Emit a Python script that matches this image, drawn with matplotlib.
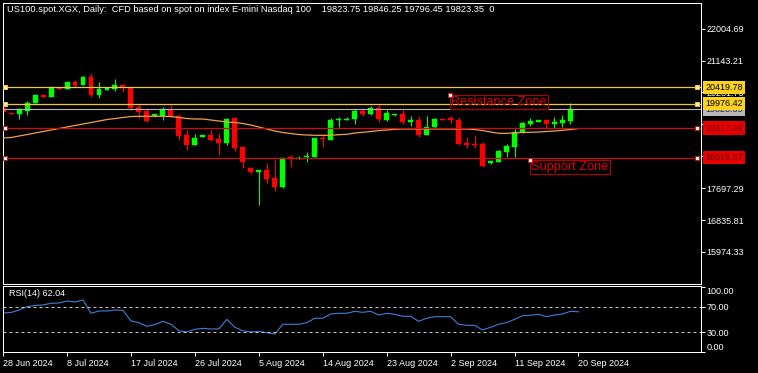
import matplotlib
matplotlib.use('Agg')
import matplotlib.pyplot as plt
from matplotlib.transforms import blended_transform_factory

plt.rcParams['font.family'] = ['Liberation Sans', 'DejaVu Sans']

# Daily OHLC, bar 0 = 28 Jun 2024, bar 72 = 20 Sep 2024
opens = [19853, 19734, 19699, 19788, 20004, 20212, 20158, 20409, 20382, 20571,
         20490, 20690, 20212, 20355, 20374, 20482, 20409, 19888, 19780, 19637,
         19637, 19826, 19645, 19132, 18862, 19086, 19132, 19024, 18916, 19583,
         18808, 18249, 18141, 18179, 17963, 17728, 18538, 18492, 18538, 18546,
         19059, 19005, 19537, 19545, 19564, 19780, 19691, 19853, 19537, 19664,
         19691, 19491, 19537, 19132, 19348, 19564, 19583, 19537, 18908, 18902,
         18889, 18384, 18411, 18665, 18816, 19221, 19421, 19491, 19529, 19421,
         19464, 19510, 19823.75]
highs = [19874, 19739, 19869, 20050, 20247, 20220, 20447, 20414, 20571, 20617,
         20725, 20806, 20555, 20414, 20644, 20509, 20414, 19961, 19826, 19707,
         19888, 19942, 19691, 19267, 19159, 19137, 19267, 19178, 19583, 19626,
         18813, 18276, 18187, 18376, 18457, 18511, 18600, 18565, 18665, 19056,
         19151, 19583, 19626, 19610, 19834, 19853, 19915, 19969, 19807, 19707,
         19807, 19645, 19645, 19645, 19591, 19569, 19645, 19626, 19086, 19132,
         18935, 18430, 18727, 18881, 19286, 19475, 19583, 19545, 19537, 19618,
         19672, 19988, 19846.25]
lows = [19726, 19691, 19564, 19672, 19988, 20150, 20150, 20366, 20374, 20436,
        20482, 20166, 20139, 20347, 20328, 20285, 19799, 19583, 19491, 19618,
        19545, 19618, 19005, 18735, 18854, 19078, 18970, 18592, 18862, 18700,
        18249, 18079, 17250, 17844, 17620, 17709, 18276, 18476, 18411, 18541,
        18816, 18989, 19348, 19537, 19437, 19653, 19672, 19475, 19510, 19653,
        19437, 19383, 19086, 19124, 19313, 19529, 19464, 18862, 18789, 18789,
        18276, 18349, 18403, 18546, 18546, 19194, 19375, 19483, 19286, 19329,
        19340, 19437, 19796.45]
closes = [19745, 19699, 19826, 20004, 20212, 20158, 20409, 20374, 20563, 20482,
          20690, 20212, 20374, 20409, 20482, 20393, 19853, 19761, 19510, 19691,
          19826, 19645, 19105, 18862, 19043, 19132, 18997, 18916, 19564, 18781,
          18411, 18125, 18179, 17944, 17736, 18503, 18492, 18511, 18573, 19051,
          19016, 19545, 19564, 19572, 19780, 19691, 19853, 19564, 19726, 19691,
          19491, 19537, 19132, 19356, 19564, 19537, 19537, 18889, 18875, 18870,
          18303, 18422, 18700, 18843, 19221, 19456, 19518, 19537, 19421, 19475,
          19537, 19830, 19823.35]
ma = [19051, 19064, 19105, 19145, 19186, 19226, 19267, 19307, 19348, 19388,
      19429, 19469, 19510, 19550, 19577, 19604, 19631, 19637, 19637, 19637,
      19637, 19631, 19604, 19577, 19564, 19564, 19537, 19510, 19483, 19469,
      19442, 19402, 19348, 19294, 19240, 19199, 19172, 19145, 19132, 19124,
      19124, 19124, 19140, 19151, 19186, 19205, 19226, 19253, 19267, 19286,
      19294, 19294, 19294, 19294, 19294, 19294, 19294, 19294, 19294, 19280,
      19253, 19213, 19178, 19178, 19186, 19199, 19205, 19213, 19226, 19240,
      19259, 19280, 19307]
rsi = [60.2, 61.0, 64.8, 70.0, 72.0, 72.7, 75.3, 75.8, 78.9, 77.3,
       80.5, 59.7, 63.3, 63.3, 64.8, 64.3, 47.7, 45.0, 39.4, 42.0,
       47.2, 42.5, 32.5, 30.5, 34.6, 36.2, 35.2, 35.2, 50.3, 37.8,
       32.5, 30.5, 31.5, 29.4, 27.3, 42.5, 42.5, 42.5, 45.0, 51.9,
       51.9, 58.6, 59.7, 59.7, 62.8, 61.2, 62.8, 57.0, 59.7, 58.1,
       55.0, 55.0, 47.2, 51.9, 54.4, 54.4, 54.4, 42.5, 40.9, 40.9,
       33.6, 37.8, 42.5, 45.0, 50.3, 55.9, 56.6, 58.1, 54.4, 57.0,
       58.6, 62.8, 62.04]

date_labels = ['28 Jun 2024', '8 Jul 2024', '17 Jul 2024', '26 Jul 2024', '5 Aug 2024',
               '14 Aug 2024', '23 Aug 2024', '2 Sep 2024', '11 Sep 2024', '20 Sep 2024']
price_ticks = [22004.69, 21143.21, 20281.73, 19420.25, 18558.77, 17697.29, 16835.81, 15974.33]

resistance_levels = [20419.78, 19976.42]
support_levels = [19317.49, 18519.67]
last_price = 19823.35

title = ('US100.spot.XGX, Daily:  CFD based on spot on index E-mini Nasdaq 100    '
         '19823.75 19846.25 19796.45 19823.35  0')

W, H = 758, 373
fig = plt.figure(figsize=(W / 100, H / 100), dpi=100, facecolor='black')

def box(x0, y0, x1, y1):
    return [x0 / W, 1 - y1 / H, (x1 - x0) / W, (y1 - y0) / H]

ax = fig.add_axes(box(2.7, 3, 700.7, 284))
ax_rsi = fig.add_axes(box(2.7, 286, 700.7, 351.7), sharex=ax)

FS = 6.5
lw = 0.72
for a in (ax, ax_rsi):
    a.set_facecolor('black')
    for s in a.spines.values():
        s.set_color('white')
        s.set_linewidth(lw)
    a.yaxis.tick_right()
    a.tick_params(axis='y', colors='white', labelcolor='white', labelsize=FS,
                  length=3, width=lw, pad=1)

n = len(closes)
xs = list(range(n))

# candles
for i in xs:
    o, h, l, c = opens[i], highs[i], lows[i], closes[i]
    col = '#00FF00' if c >= o else '#FF0000'
    ax.vlines(i, l, h, color=col, lw=0.8, zorder=2)
    ax.bar(i, max(abs(c - o), 20), bottom=min(o, c), width=0.62, color=col,
           edgecolor=col, linewidth=0.3, zorder=2)

ax.plot(xs, ma, color='#F0A050', lw=0.9, zorder=3)

# horizontal lines
trans_h = blended_transform_factory(ax.transAxes, ax.transData)
ax.axhline(last_price, color='#B8B8B8', lw=0.8, zorder=3)
for lev in resistance_levels:
    ax.axhline(lev, color='#F2C640', lw=0.9, zorder=3)
    ax.plot([0.0033, 0.9947], [lev, lev], 's', ms=3.2, mfc='#FFF3A0', mec='#F2C640',
            mew=0.7, transform=trans_h, zorder=4, clip_on=False)
for lev in support_levels:
    ax.axhline(lev, color='#C81010', lw=0.9, zorder=3)
    ax.plot([0.0033, 0.9947], [lev, lev], 's', ms=3.2, mfc='white', mec='#D01010',
            mew=0.7, transform=trans_h, zorder=4, clip_on=False)

# zone labels
ax.text(56.1, 20180, 'Resistance Zone', color='#E00000', fontsize=9.2, ha='left', va='top',
        zorder=5, bbox=dict(boxstyle='square,pad=0.08', fc='none', ec='#B00000', lw=0.8))
ax.plot([55.95], [20204], 's', ms=3.2, mfc='white', mec='#D01010', mew=0.7, zorder=6)
ax.text(66.1, 18425, 'Support Zone', color='#E00000', fontsize=9.2, ha='left', va='top',
        zorder=5, bbox=dict(boxstyle='square,pad=0.08', fc='none', ec='#B00000', lw=0.8))
ax.plot([65.95], [18449], 's', ms=3.2, mfc='white', mec='#D01010', mew=0.7, zorder=6)

ax.set_xlim(-0.05, 87.3)
ax.set_ylim(15109, 22696)
ax.set_yticks(price_ticks)
ax.set_yticklabels([f'{p:.2f}' for p in price_ticks])
ax.tick_params(axis='x', bottom=False, labelbottom=False)

# price tags on the right axis
trans_f = blended_transform_factory(fig.transFigure, ax.transData)
xl = 705.5 / W
ax.text(xl, last_price, f'{last_price:.2f}', transform=trans_f, color='#303030', fontsize=FS,
        va='center', ha='left', clip_on=False, zorder=7,
        bbox=dict(boxstyle='square,pad=0.25', fc='#B8B8B8', ec='none'))
for lev in resistance_levels:
    ax.text(xl, lev, f'{lev:.2f}', transform=trans_f, color='black', fontsize=FS,
            va='center', ha='left', clip_on=False, zorder=8,
            bbox=dict(boxstyle='square,pad=0.25', fc='#FFD21E', ec='none'))
for lev in support_levels:
    ax.text(xl, lev, f'{lev:.2f}', transform=trans_f, color='#700000', fontsize=FS,
            va='center', ha='left', clip_on=False, zorder=8,
            bbox=dict(boxstyle='square,pad=0.25', fc='#E80000', ec='none'))

fig.text(7 / W, 1 - 9 / H, title, color='white', fontsize=6.65, va='center', ha='left')

# RSI panel
ax_rsi.plot(xs, rsi, color='#3F7FD8', lw=0.8)
for lev in (70, 30):
    ax_rsi.axhline(lev, color='#C8C8C8', lw=0.72, dashes=(3, 3))
ax_rsi.set_ylim(-0.3, 102.3)
ax_rsi.set_yticks([0, 30, 70, 100])
ax_rsi.set_yticklabels(['0.00', '30.00', '70.00', '100.00'])
lbls = ax_rsi.get_yticklabels()
lbls[0].set_va('bottom')
lbls[3].set_va('top')
ax_rsi.text(6 / 698, 0.88, f'RSI(14) {rsi[-1]:.2f}', transform=ax_rsi.transAxes,
            color='white', fontsize=FS, va='center', ha='left')

ax_rsi.set_xticks(range(0, n, 8))
ax_rsi.set_xticklabels(date_labels)
ax_rsi.tick_params(axis='x', colors='white', labelcolor='white', labelsize=FS,
                   length=3, width=lw, pad=2)
for t in ax_rsi.get_xticklabels():
    t.set_ha('left')

fig.savefig('out.png', dpi=100, facecolor='black')
